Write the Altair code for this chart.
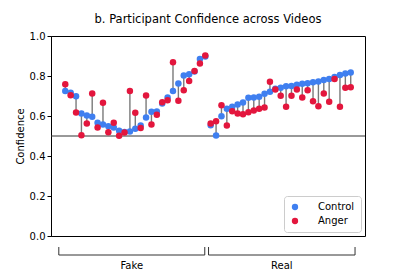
import altair as alt
import pandas as pd

control_fake = [0.725, 0.716, 0.699, 0.612, 0.602, 0.596, 0.566, 0.557, 0.549, 0.543,
                0.526, 0.520, 0.523, 0.536, 0.553, 0.593, 0.621, 0.623, 0.662, 0.692,
                0.725, 0.762, 0.802, 0.809, 0.822, 0.885, 0.898]
anger_fake = [0.759, 0.704, 0.617, 0.504, 0.563, 0.712, 0.543, 0.666, 0.519, 0.566,
              0.501, 0.517, 0.725, 0.616, 0.540, 0.702, 0.557, 0.606, 0.669, 0.679,
              0.869, 0.676, 0.729, 0.775, 0.825, 0.862, 0.902]
control_real = [0.554, 0.503, 0.599, 0.636, 0.646, 0.657, 0.667, 0.691, 0.693, 0.696,
                0.711, 0.721, 0.736, 0.741, 0.749, 0.750, 0.756, 0.761, 0.764, 0.769,
                0.772, 0.780, 0.785, 0.795, 0.805, 0.812, 0.817]
anger_real = [0.563, 0.574, 0.654, 0.553, 0.624, 0.612, 0.609, 0.619, 0.627, 0.636,
              0.642, 0.771, 0.732, 0.701, 0.646, 0.701, 0.732, 0.692, 0.729, 0.674,
              0.649, 0.712, 0.671, 0.785, 0.646, 0.741, 0.744]

group_labels = ["Fake", "Real"]
group_start = [-1.2, 26.6]
group_end = [25.9, 53.8]
threshold = [0.5]
y_ticks = [0.0, 0.2, 0.4, 0.6, 0.8, 1.0]

control = control_fake + control_real
anger = anger_fake + anger_real
n = len(control)
wide = pd.DataFrame({"idx": list(range(n)), "control": control, "anger": anger})
long = pd.concat([
    pd.DataFrame({"idx": list(range(n)), "value": control, "cond": "Control", "order": 0}),
    pd.DataFrame({"idx": list(range(n)), "value": anger, "cond": "Anger", "order": 1}),
])
groups = pd.DataFrame({"label": group_labels, "start": group_start, "end": group_end})
groups["mid"] = (groups["start"] + groups["end"]) / 2
thr = pd.DataFrame({"y": threshold})

W, H = 314, 200
xs = alt.Scale(domain=[-2.65, 55.65], nice=False, zero=False)
ys = alt.Scale(domain=[0, 1.0], nice=False)
yaxis = alt.Axis(title="Confidence", values=y_ticks, format=".1f", grid=False, tickSize=4,
                 labelOverlap=False, labelFlush=False)

hline = alt.Chart(thr).mark_rule(color="#333333", strokeWidth=1).encode(
    y=alt.Y("y:Q", scale=ys, axis=yaxis)
)

stems = alt.Chart(wide).mark_rule(color="#7a7a7a", strokeWidth=1.4).encode(
    x=alt.X("idx:Q", scale=xs, axis=None),
    y=alt.Y("control:Q", scale=ys, axis=yaxis),
    y2="anger:Q",
)

points = alt.Chart(long).mark_circle(size=42, opacity=1).encode(
    x=alt.X("idx:Q", scale=xs, axis=None),
    y=alt.Y("value:Q", scale=ys, axis=yaxis),
    color=alt.Color("cond:N", scale=alt.Scale(domain=["Control", "Anger"], range=["#3f7ff0", "#e3163d"]),
                    legend=alt.Legend(title=None, orient="bottom-right", offset=4,
                                      fillColor="white", strokeColor="#cccccc", padding=6,
                                      cornerRadius=3, symbolType="circle", symbolSize=40,
                                      labelFontSize=10, rowPadding=4, labelOffset=18)),
    order=alt.Order("order:Q"),
)

brk_h = alt.Chart(groups).mark_rule(color="#333333", strokeWidth=1).encode(
    x=alt.X("start:Q", scale=xs, axis=None), x2="end:Q", y=alt.value(H + 19)
)
brk_l = alt.Chart(groups).mark_rule(color="#333333", strokeWidth=1).encode(
    x=alt.X("start:Q", scale=xs, axis=None), y=alt.value(H + 11), y2=alt.value(H + 19)
)
brk_r = alt.Chart(groups).mark_rule(color="#333333", strokeWidth=1).encode(
    x=alt.X("end:Q", scale=xs, axis=None), y=alt.value(H + 11), y2=alt.value(H + 19)
)
brk_t = alt.Chart(groups).mark_text(fontSize=10, baseline="middle", font="DejaVu Sans").encode(
    x=alt.X("mid:Q", scale=xs, axis=None), y=alt.value(H + 30), text="label:N"
)

chart = alt.layer(hline, stems, points, brk_h, brk_l, brk_r, brk_t).properties(
    width=W, height=H,
    title=alt.Title("b. Participant Confidence across Videos", fontSize=11.5, fontWeight="normal",
                    font="DejaVu Sans", offset=6),
    autosize=alt.AutoSizeParams(type="none"),
    padding={"left": 43, "top": 28, "right": 30, "bottom": 37},
).configure_view(stroke="black", strokeWidth=1).configure_axis(
    labelFont="DejaVu Sans", titleFont="DejaVu Sans", labelFontSize=10, titleFontSize=10,
    titleFontWeight="normal", labelColor="black", titleColor="black", domainColor="black",
    tickColor="black", titlePadding=4
).configure_legend(labelFont="DejaVu Sans", labelColor="black")

chart.save("out.html", embed_options={"renderer": "svg", "actions": False})
